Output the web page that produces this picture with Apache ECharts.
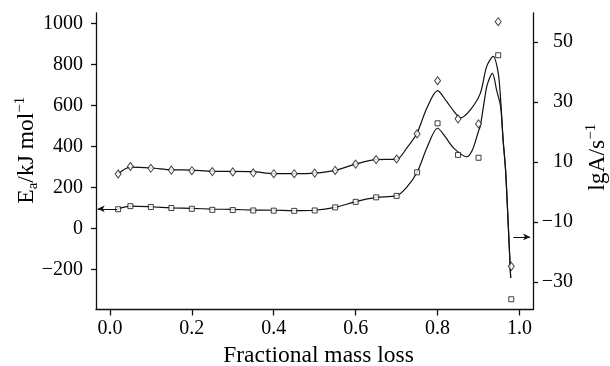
<!DOCTYPE html>
<html>
<head>
<meta charset="utf-8">
<script src="https://cdn.jsdelivr.net/npm/echarts@6.0.0/dist/echarts.min.js"></script>
<style>
  html, body { margin: 0; padding: 0; background: #fff; }
  #chart { width: 610px; height: 366px; }
</style>
</head>
<body>
<div id="chart"></div>
<script>
// measured points (fractional mass loss)
const massLoss = [0.02, 0.05, 0.1, 0.15, 0.2, 0.25, 0.3, 0.35, 0.4, 0.45, 0.5,
  0.55, 0.6, 0.65, 0.7, 0.75, 0.8, 0.85, 0.9, 0.948, 0.98];
// Ea, kJ/mol (squares, left axis)
const eaPoints = [95, 110, 106, 101, 97, 92, 91, 89, 88, 87, 89,
  104, 131, 153, 160, 275, 514, 360, 346, 846, -344];
// lgA, 1/s (diamonds, right axis)
const lgAPoints = [6.0, 8.5, 7.9, 7.3, 7.1, 6.8, 6.7, 6.4, 6.1, 6.1, 6.3,
  7.2, 9.3, 10.8, 11.0, 19.4, 37.1, 24.4, 22.7, 56.8, -24.8];

// fitted curves
const eaFitX = [0.02, 0.05, 0.1, 0.15, 0.2, 0.25, 0.3, 0.35, 0.4, 0.45, 0.5, 0.55, 0.6,
  0.65, 0.7, 0.725, 0.75, 0.775, 0.8, 0.818, 0.84, 0.871, 0.885, 0.8995, 0.904, 0.912,
  0.921, 0.934, 0.944, 0.954, 0.96, 0.966, 0.972, 0.9785];
const eaFit = [97, 110, 107, 102, 99, 96, 94, 91, 90, 88, 90, 104, 132,
  153, 161, 203, 275, 400, 490, 450, 392, 351, 384, 473, 498, 595,
  700, 758, 677, 595, 433, 287, 42, -240];

const lgAFitX = [0.02, 0.05, 0.1, 0.15, 0.2, 0.25, 0.3, 0.35, 0.4, 0.45, 0.5, 0.55, 0.6,
  0.65, 0.7, 0.725, 0.749, 0.774, 0.8, 0.822, 0.84, 0.856, 0.88, 0.904, 0.92, 0.936,
  0.948, 0.954, 0.96, 0.966, 0.972, 0.9785];
const lgAFit = [6.1, 8.3, 8.0, 7.4, 7.3, 6.9, 6.9, 6.8, 6.1, 6.1, 6.3, 7.2, 9.3,
  10.8, 10.9, 14.7, 19.4, 28.0, 33.8, 30.2, 26.9, 24.7, 27.4, 32.8, 41.9, 45.2,
  39.7, 30.8, 17.4, 7.4, -9.2, -28.6];

const xTicks = [0, 0.2, 0.4, 0.6, 0.8, 1.0];
const eaTicks = [-200, 0, 200, 400, 600, 800, 1000];
const lgATicks = [-30, -10, 10, 30, 50];

const pair = (xs, ys) => xs.map((x, i) => [x, ys[i]]);
const minus = (v) => String(v).replace("-", "\u2212");

const font = "Liberation Serif";
const ink = "#111";

const chart = echarts.init(document.getElementById("chart"));

const axisCommon = {
  axisLine: { show: true, onZero: false, lineStyle: { color: ink, width: 1.3 } },
  splitLine: { show: false },
};

const option = {
  animation: false,
  backgroundColor: "#fff",
  textStyle: { fontFamily: font },
  // keep the plot box where it is, labels may sit outside it
  grid: { left: 96, right: 77, top: 13, bottom: 56.5, outerBoundsMode: "none", containLabel: false },
  xAxis: {
    type: "value",
    min: -0.034,
    max: 1.033,
    ...axisCommon,
    axisTick: { show: true, inside: false, length: 6, customValues: xTicks, lineStyle: { color: ink, width: 1.3 } },
    axisLabel: {
      customValues: xTicks,
      formatter: (v) => v.toFixed(1),
      color: "#000", fontSize: 20, margin: 9, fontFamily: font,
    },
    name: "Fractional mass loss",
    nameLocation: "middle",
    nameGap: 32,
    nameTextStyle: { color: "#000", fontSize: 23.5, fontFamily: font, padding: [0, 0, 0, 8] },
  },
  yAxis: [
    {
      type: "value",
      position: "left",
      min: -394,
      max: 1052,
      ...axisCommon,
      axisTick: { show: true, inside: false, length: 5, customValues: eaTicks, lineStyle: { color: ink, width: 1.3 } },
      axisLabel: {
        customValues: eaTicks,
        formatter: minus,
        color: "#000", fontSize: 20, margin: 13, fontFamily: font,
      },
      name: "{m|E}{sub|a}{m|/kJ mol}{sup|\u22121}",
      nameLocation: "middle",
      nameRotate: 90,
      nameGap: 55,
      nameMoveOverlap: false,
      nameTextStyle: {
        padding: [0, 0, 0, 22],
        rich: {
          m: { fontSize: 23.5, fontFamily: font, color: "#000", lineHeight: 28 },
          sub: { fontSize: 15, fontFamily: font, color: "#000", lineHeight: 15, verticalAlign: "bottom" },
          sup: { fontSize: 15, fontFamily: font, color: "#000", lineHeight: 15, verticalAlign: "top" },
        },
      },
    },
    {
      type: "value",
      position: "right",
      min: -39.2,
      max: 59.7,
      ...axisCommon,
      axisTick: { show: true, inside: false, length: 5, customValues: lgATicks, lineStyle: { color: ink, width: 1.3 } },
      axisLabel: {
        customValues: lgATicks,
        formatter: minus,
        align: "right",
        color: "#000", fontSize: 20, margin: 40, fontFamily: font,
      },
      name: "{m|lgA/s}{sup|\u22121}",
      nameLocation: "middle",
      nameRotate: 90,
      nameGap: 46,
      nameTextStyle: {
        padding: [0, 0, 0, 8],
        rich: {
          m: { fontSize: 23.5, fontFamily: font, color: "#000", lineHeight: 28 },
          sup: { fontSize: 15, fontFamily: font, color: "#000", lineHeight: 15, verticalAlign: "top" },
        },
      },
    },
  ],
  series: [
    {
      name: "Ea fit",
      type: "line",
      yAxisIndex: 0,
      data: pair(eaFitX, eaFit),
      smooth: 0.3,
      symbol: "none",
      lineStyle: { color: ink, width: 1.2 },
      z: 2,
      // arrow to the left axis
      markLine: {
        silent: true,
        symbol: ["arrow", "none"],
        symbolSize: [5, 7],
        label: { show: false },
        lineStyle: { color: ink, width: 1, type: "solid" },
        data: [[{ coord: [-0.03, 97] }, { coord: [0.018, 97] }]],
      },
    },
    {
      name: "Ea",
      type: "scatter",
      yAxisIndex: 0,
      data: pair(massLoss, eaPoints),
      symbol: "rect",
      symbolSize: 5,
      itemStyle: { color: "#fff", borderColor: ink, borderWidth: 1 },
      z: 3,
    },
    {
      name: "lgA fit",
      type: "line",
      yAxisIndex: 1,
      data: pair(lgAFitX, lgAFit),
      smooth: 0.3,
      symbol: "none",
      lineStyle: { color: ink, width: 1.2 },
      z: 2,
      // arrow to the right axis
      markLine: {
        silent: true,
        symbol: ["none", "arrow"],
        symbolSize: [5, 7],
        label: { show: false },
        lineStyle: { color: ink, width: 1, type: "solid" },
        data: [[{ coord: [0.985, -15] }, { coord: [1.026, -15] }]],
      },
    },
    {
      name: "lgA",
      type: "scatter",
      yAxisIndex: 1,
      data: pair(massLoss, lgAPoints),
      symbol: "diamond",
      symbolSize: [6, 8],
      itemStyle: { color: "#fff", borderColor: ink, borderWidth: 1 },
      z: 3,
    },
  ],
};

chart.setOption(option);
</script>
</body>
</html>
